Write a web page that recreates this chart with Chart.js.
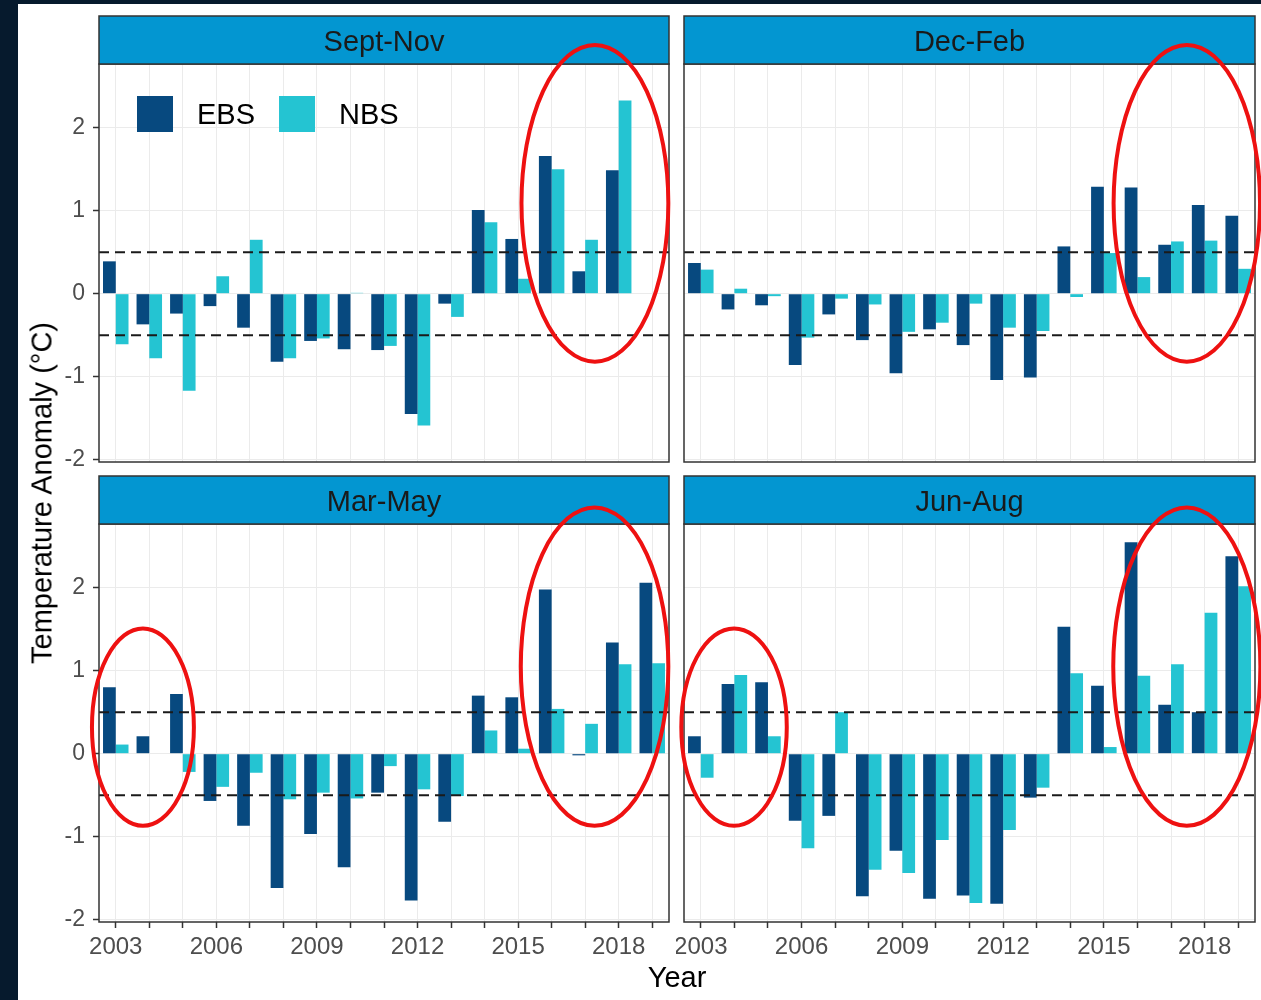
<!DOCTYPE html>
<html>
  <head>
    <title>Seasonal Temperature Anomaly</title>
    <script src="https://cdn.jsdelivr.net/npm/chart.js"></script>
    <style>
      body {
        margin: 0;
        width: 1261px;
        height: 1000px;
        overflow: hidden;
        background: #061a2d;
        font-family: "Liberation Sans", Arial, sans-serif;
      }
      #page {
        position: absolute;
        left: 18px;
        top: 4px;
        right: 0;
        bottom: 0;
        background: #ffffff;
      }
      canvas {
        position: absolute;
      }
      .axis-title {
        position: absolute;
        font-size: 29px;
        color: #000;
        white-space: nowrap;
        transform: translate(-50%, -50%);
      }
    </style>
  </head>
  <body>
    <div id="page"></div>
    <canvas id="p0" width="630" height="470" style="left:50px;top:4px"></canvas>
    <canvas id="p1" width="585" height="470" style="left:676px;top:4px"></canvas>
    <canvas id="p2" width="630" height="526" style="left:50px;top:474px"></canvas>
    <canvas id="p3" width="585" height="526" style="left:676px;top:474px"></canvas>
    <div class="axis-title" style="left:42px;top:493px;transform:translate(-50%,-50%) rotate(-90deg)">Temperature Anomaly (°C)</div>
    <div class="axis-title" style="left:677px;top:977px">Year</div>
    <script>
      // Data
      const years = ["2003", "2004", "2005", "2006", "2007", "2008", "2009", "2010", "2011",
        "2012", "2013", "2014", "2015", "2016", "2017", "2018", "2019"];
      const xTickLabels = ["2003", "2006", "2009", "2012", "2015", "2018"];
      const yTicks = [-2, -1, 0, 1, 2];
      const thresholds = [-0.5, 0.5];
      const seriesNames = ["EBS", "NBS"];
      const panelTitles = ["Sept-Nov", "Dec-Feb", "Mar-May", "Jun-Aug"];

      const ebsSeptNov = [0.39, -0.37, -0.24, -0.15, -0.41, -0.82, -0.57, -0.67, -0.68, -1.45, -0.12, 1.01, 0.66, 1.66, 0.27, 1.49, null];
      const nbsSeptNov = [-0.61, -0.78, -1.17, 0.21, 0.65, -0.78, -0.54, 0.01, -0.63, -1.59, -0.28, 0.86, 0.18, 1.5, 0.65, 2.33, null];
      const ebsDecFeb = [0.37, -0.19, -0.14, -0.86, -0.25, -0.56, -0.96, -0.43, -0.62, -1.04, -1.01, 0.57, 1.29, 1.28, 0.59, 1.07, 0.94];
      const nbsDecFeb = [0.29, 0.06, -0.03, -0.53, -0.06, -0.13, -0.46, -0.35, -0.12, -0.41, -0.45, -0.04, 0.49, 0.2, 0.63, 0.64, 0.3];
      const ebsMarMay = [0.8, 0.21, 0.72, -0.57, -0.87, -1.62, -0.97, -1.37, -0.47, -1.77, -0.82, 0.7, 0.68, 1.98, -0.02, 1.34, 2.06];
      const nbsMarMay = [0.11, null, -0.22, -0.4, -0.23, -0.55, -0.47, -0.54, -0.15, -0.43, -0.51, 0.28, 0.06, 0.54, 0.36, 1.08, 1.09];
      const ebsJunAug = [0.21, 0.84, 0.86, -0.81, -0.75, -1.72, -1.17, -1.75, -1.71, -1.81, -0.53, 1.53, 0.82, 2.55, 0.59, 0.5, 2.38];
      const nbsJunAug = [-0.29, 0.95, 0.21, -1.14, 0.5, -1.4, -1.44, -1.04, -1.8, -0.92, -0.41, 0.97, 0.08, 0.94, 1.08, 1.7, 2.02];

      // highlight ellipses: centre (year, value) and radii (years, degrees)
      const ellipses = [
        { panel: 0, year: 2017.29, value: 1.09, rx: 2.19, ry: 1.91 },
        { panel: 1, year: 2017.47, value: 1.09, rx: 2.18, ry: 1.91 },
        { panel: 2, year: 2017.28, value: 1.05, rx: 2.2, ry: 1.92 },
        { panel: 2, year: 2003.81, value: 0.32, rx: 1.52, ry: 1.19 },
        { panel: 3, year: 2017.47, value: 1.05, rx: 2.19, ry: 1.92 },
        { panel: 3, year: 2003.99, value: 0.32, rx: 1.57, ry: 1.19 },
      ];

      const panelData = [
        [ebsSeptNov, nbsSeptNov],
        [ebsDecFeb, nbsDecFeb],
        [ebsMarMay, nbsMarMay],
        [ebsJunAug, nbsJunAug],
      ];

      const colors = ["#07497f", "#24c4d2"];
      const FONT = "'Liberation Sans', Arial, sans-serif";

      const facetPlugin = {
        id: "facet",
        afterDatasetsDraw(chart) {
          const { ctx, chartArea: a } = chart;
          const y = chart.scales.y;
          ctx.save();
          ctx.setLineDash([10, 6]);
          ctx.lineWidth = 2;
          ctx.strokeStyle = "#1a1a1a";
          thresholds.forEach((v) => {
            const py = y.getPixelForValue(v);
            ctx.beginPath();
            ctx.moveTo(a.left, py);
            ctx.lineTo(a.right, py);
            ctx.stroke();
          });
          ctx.restore();
        },
        afterDraw(chart, args, opts) {
          const { ctx, chartArea: a } = chart;
          const x = chart.scales.x;
          const y = chart.scales.y;
          ctx.save();

          // panel border
          ctx.strokeStyle = "#333333";
          ctx.lineWidth = 1.5;
          ctx.strokeRect(a.left, a.top, a.right - a.left, a.bottom - a.top);

          // facet strip
          const stripH = 48;
          ctx.fillStyle = "#0396d1";
          ctx.fillRect(a.left, a.top - stripH, a.right - a.left, stripH);
          ctx.strokeRect(a.left, a.top - stripH, a.right - a.left, stripH);
          ctx.fillStyle = "#1a1a1a";
          ctx.font = "29px " + FONT;
          ctx.textAlign = "center";
          ctx.textBaseline = "middle";
          ctx.fillText(opts.title, (a.left + a.right) / 2, a.top - stripH / 2 + 3);

          // legend inside the first panel
          if (opts.legend) {
            let lx = a.left + 38;
            const ly = a.top + 50;
            ctx.textAlign = "left";
            chart.data.datasets.forEach((ds) => {
              ctx.fillStyle = ds.backgroundColor;
              ctx.fillRect(lx, ly - 18, 36, 36);
              lx += 36 + 24;
              ctx.fillStyle = "#000";
              ctx.fillText(ds.label, lx, ly + 2);
              lx += ctx.measureText(ds.label).width + 24;
            });
          }

          // red highlight ellipses
          const step = x.getPixelForValue(1) - x.getPixelForValue(0);
          const unit = y.getPixelForValue(0) - y.getPixelForValue(1);
          ctx.strokeStyle = "#ee1111";
          ctx.lineWidth = 4;
          opts.ellipses.forEach((e) => {
            const cx = x.getPixelForValue(0) + (e.year - Number(years[0])) * step;
            const cy = y.getPixelForValue(e.value);
            ctx.beginPath();
            ctx.ellipse(cx, cy, e.rx * step, e.ry * unit, 0, 0, Math.PI * 2);
            ctx.stroke();
          });
          ctx.restore();
        },
      };

      panelTitles.forEach((title, i) => {
        const left = i % 2 === 0;
        const bottom = i >= 2;
        const ctx = document.getElementById("p" + i).getContext("2d");

        new Chart(ctx, {
          type: "bar",
          data: {
            labels: years,
            datasets: seriesNames.map((name, k) => ({
              label: name,
              data: panelData[i][k],
              backgroundColor: colors[k],
              borderWidth: 0,
              categoryPercentage: 0.76,
              barPercentage: 1.0,
            })),
          },
          options: {
            responsive: false,
            animation: false,
            layout: {
              padding: {
                top: bottom ? 50 : 60,
                bottom: bottom ? 38 : 12,
                left: left ? 0 : 8,
                right: left ? 11 : 6,
              },
            },
            scales: {
              x: {
                offset: true,
                border: { display: false },
                grid: {
                  offset: false,
                  color: "#ebebeb",
                  drawTicks: bottom,
                  tickLength: 6,
                  tickColor: "#333333",
                  tickWidth: 1.5,
                },
                ticks: {
                  display: bottom,
                  autoSkip: false,
                  maxRotation: 0,
                  padding: 5,
                  color: "#4d4d4d",
                  font: { size: 24, family: FONT },
                  callback: function (value) {
                    const lab = this.getLabelForValue(value);
                    return xTickLabels.includes(lab) ? lab : "";
                  },
                },
                afterFit: (s) => {
                  s.height = bottom ? 40 : 0;
                  s.paddingLeft = 0;
                  s.paddingRight = 0;
                },
              },
              y: {
                min: -2.03,
                max: 2.77,
                border: { display: false },
                grid: {
                  color: "#ebebeb",
                  drawTicks: left,
                  tickLength: 6,
                  tickColor: "#333333",
                  tickWidth: 1.5,
                },
                ticks: {
                  display: left,
                  padding: 8,
                  color: "#4d4d4d",
                  font: { size: 23, family: FONT },
                },
                afterBuildTicks: (s) => {
                  s.ticks = yTicks.map((v) => ({ value: v }));
                },
                afterFit: (s) => {
                  s.width = left ? 49 : 0;
                  s.paddingTop = 0;
                  s.paddingBottom = 0;
                },
              },
            },
            plugins: {
              legend: { display: false },
              tooltip: { enabled: false },
              facet: {
                title: title,
                legend: i === 0,
                ellipses: ellipses.filter((e) => e.panel === i),
              },
            },
          },
          plugins: [facetPlugin],
        });
      });
    </script>
  </body>
</html>
